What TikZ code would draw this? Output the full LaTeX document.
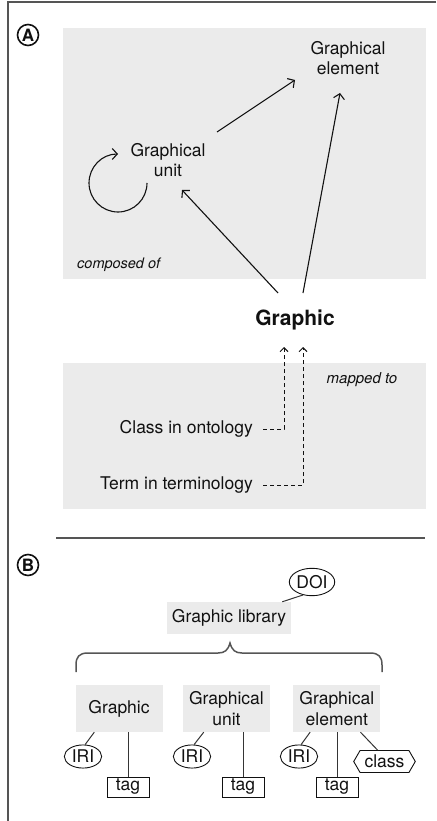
\documentclass[tikz,border=0pt]{standalone}
\usepackage{fontspec}
\setmainfont{TeX Gyre Heros}
\usepackage{xcolor}
\usepackage{tikz}
\usetikzlibrary{arrows.meta, positioning, shapes.geometric, shapes.symbols}
\definecolor{panelcolor}{HTML}{EBEBEB}
\definecolor{framecolor}{HTML}{555555}
\definecolor{inkcolor}{HTML}{111111}

\begin{document}
\begin{tikzpicture}[x=1pt, y=-1pt, text=inkcolor,
  txt/.style={inner sep=0, align=center, font=\fontsize{17.5}{20.5}\selectfont},
  remark/.style={inner sep=0, font=\itshape\fontsize{14.5}{17}\selectfont},
  badge/.style={circle, draw=inkcolor, line width=1.6pt, minimum size=21pt, inner sep=0, font=\bfseries\fontsize{17}{17}\selectfont},
  item/.style={rectangle, fill=panelcolor, minimum width=87pt, minimum height=47pt, inner sep=0, align=center, font=\fontsize{17.5}{20.5}\selectfont},
  ident/.style={ellipse, draw=inkcolor, line width=0.9pt, inner xsep=2pt, inner ysep=1.8pt, font=\fontsize{17.5}{20.5}\selectfont},
  tagbox/.style={rectangle, draw=inkcolor, line width=0.9pt, minimum width=42pt, minimum height=20pt, inner sep=0, font=\fontsize{17.5}{20.5}\selectfont},
  flag/.style={signal, signal to=west and east, signal pointer angle=120, draw=inkcolor, line width=0.9pt, inner xsep=4.5pt, inner ysep=4.5pt, font=\fontsize{17.5}{20.5}\selectfont},
  link/.style={-{Straight Barb[length=5pt,width=11pt]}, line width=1.1pt, draw=inkcolor},
  maplink/.style={-{Straight Barb[length=4pt,width=8pt]}, line width=1pt, dash pattern=on 4pt off 3pt, draw=inkcolor},
  tie/.style={line width=1pt, draw=inkcolor!85}]

  \useasboundingbox (0,0) rectangle (436,821);

  % Frame and panels
  \draw[framecolor, line width=2pt] (436,2) -- (8,2) -- (8,821);
  \fill[panelcolor] (63,28) rectangle (426,279);
  \fill[panelcolor] (63,363) rectangle (426,509);
  \draw[framecolor, line width=1.5pt] (56,538) -- (425,538);

  % Part A
  \node[badge] (A) at (28,35) {A};
  \node[txt] (GE) at (348,58) {Graphical\\element};
  \node[txt] (GU) at (168,160) {Graphical\\unit};
  \node[txt, font=\bfseries\fontsize{21}{25}\selectfont] (G) at (295,320) {Graphic};
  \node[remark, anchor=west] (comp) at (77,265) {composed of};
  \node[remark, font=\itshape\fontsize{15}{17}\selectfont] (map) at (362,380) {mapped to};
  \node[txt, anchor=east] (CO) at (253,429) {Class in ontology};
  \node[txt, anchor=east] (TT) at (253,485) {Term in terminology};

  \draw[link] ([shift={(49,-28)}]GU.center) -- ([shift={(-53,22)}]GE.center);
  \draw[link] ([shift={(-21,23)}]GU.center) arc[start angle=0, end angle=270, radius=29];
  \draw[link] ([shift={(-17,-27)}]G.center) -- ([shift={(14,30)}]GU.center);
  \draw[link] ([shift={(8,-27)}]G.center) -- ([shift={(-8,35)}]GE.center);
  \draw[maplink] ([xshift=10pt]CO.east) -| ([shift={(-11,27)}]G.center);
  \draw[maplink] ([xshift=10pt]TT.east) -| ([shift={(8,27)}]G.center);

  % Part B
  \node[badge] (B) at (28,565) {B};
  \node[item, minimum width=124pt, minimum height=32pt] (lib) at (229,618) {Graphic library};
  \node[ident, inner xsep=0.5pt, inner ysep=3pt] (doi) at (312,582) {DOI};
  \draw[tie] (doi.235) -- ([xshift=-9pt]lib.north east);

  \draw[framecolor, line width=1.5pt] (76,672) -- (76,665) .. controls (76,657) and (79,653) .. (88,653)
    -- (218,653) .. controls (225,653) and (228,650) .. (230,643)
    .. controls (232,650) and (235,653) .. (242,653) -- (370,653)
    .. controls (379,653) and (382,657) .. (382,665) -- (382,672);

  \node[item] (gb) at (119,708.5) {Graphic};
  \node[item, right=20pt of gb] (ub) {Graphical\\unit};
  \node[item, right=23pt of ub] (eb) {Graphical\\element};

  \node[ident] (gi) at (83,756.5) {IRI};
  \node[ident] (ui) at (192,756.5) {IRI};
  \node[ident] (ei) at (299,756.5) {IRI};
  \node[tagbox] (gt) at (128,787) {tag};
  \node[tagbox] (ut) at (243,787) {tag};
  \node[tagbox] (et) at (337,787) {tag};
  \node[flag] (cls) at (384.5,761.5) {class};

  \draw[tie] (gi.80) -- ([xshift=19pt]gb.south west);
  \draw[tie] (ui.80) -- ([xshift=21pt]ub.south west);
  \draw[tie] (ei.80) -- ([xshift=17pt]eb.south west);
  \draw[tie] (gt.north) -- (gt.north |- gb.south);
  \draw[tie] (ut.north) -- (ut.north |- ub.south);
  \draw[tie] (et.north) -- (et.north |- eb.south);
  \draw[tie] ([xshift=-7pt]cls.north) -- ([xshift=-20pt]eb.south east);

\end{tikzpicture}
\end{document}
